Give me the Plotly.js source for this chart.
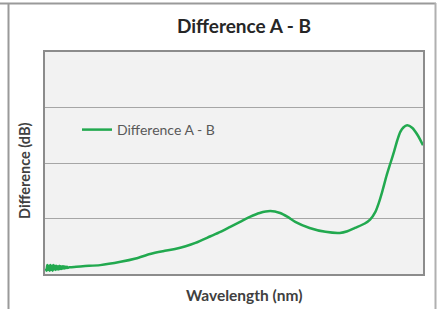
<!DOCTYPE html>
<html>
<head>
<meta charset="utf-8">
<script src="https://cdn.plot.ly/plotly-3.0.1.min.js"></script>
<style>
html,body{margin:0;padding:0;background:#fff;}
#chart{width:438px;height:309px;}
</style>
</head>
<body>
<div id="chart"></div>
<script>
// Wavelength (nm) – nominal axis, no tick labels shown in the reference
const wavelength = [1201,1202,1203,1204,1205,1206,1207,1208,1209,1210,1211,1212,1213,1214,1215,
  1216,1217,1218,1219,1220,1221,1222,1223,1224,1225,1226,1227,1228,1229,1230,1232,1234,
  1250,1273,1300,1320,1339,1356,1372,1386,1399,1419,1432,1445,1458,1471,1484,1498,1511,1521,1531,1550,1571,1590,
  1600,1610,1623,1630,1637,1642,1646,1652,1657,1662,1666,1670,1674,1679,1686,1693,1700];
// Difference A - B (dB)
const difference = [0.10,0.06,0.16,0.07,0.15,0.06,0.16,0.07,0.15,0.06,0.16,0.08,0.15,0.07,0.15,
  0.08,0.14,0.08,0.15,0.09,0.14,0.09,0.14,0.10,0.14,0.10,0.13,0.11,0.13,0.11,0.12,0.12,
  0.14,0.16,0.22,0.28,0.36,0.41,0.45,0.50,0.56,0.68,0.76,0.85,0.94,1.03,1.10,1.135,1.10,1.03,0.94,0.83,0.76,0.74,
  0.77,0.83,0.91,0.98,1.12,1.30,1.48,1.78,2.00,2.22,2.41,2.56,2.64,2.68,2.63,2.50,2.32];
const seriesName = "Difference A - B";
const chartTitle = "Difference A - B";
const xTitle = "Wavelength (nm)";
const yTitle = "Difference (dB)";

const FONT = "Lato, 'Open Sans', sans-serif";
const W = 438, H = 309, L = 45, T = 52, R = 15, B = 35;
const pw = W - L - R, ph = H - T - B;
const px = v => (v - L) / pw;          // page x -> paper x
const py = v => (H - B - v) / ph;      // page y -> paper y

const trace = {
  x: wavelength, y: difference, type: "scatter", mode: "lines",
  name: seriesName, line: {color: "#22a94f", width: 2.5, shape: "spline", smoothing: 0.8}
};

const layout = {
  width: W, height: H,
  margin: {l: L, r: R, t: T, b: B, pad: 0},
  paper_bgcolor: "#ffffff", plot_bgcolor: "#f2f2f2",
  font: {family: FONT, color: "#404040"},
  title: {text: "<b>" + chartTitle + "</b>", font: {size: 19, color: "#262626", family: FONT},
          xref: "paper", x: px(244), xanchor: "center", yref: "paper", y: py(28), yanchor: "middle"},
  showlegend: true,
  legend: {x: px(77), y: py(130), xanchor: "left", yanchor: "middle", bgcolor: "rgba(0,0,0,0)",
           font: {size: 14, color: "#595959", family: FONT}},
  xaxis: {range: [1200, 1700], showticklabels: false, ticks: "", showgrid: false, zeroline: false,
          showline: true, mirror: true, linecolor: "#8c8c8c", linewidth: 2},
  yaxis: {range: [0, 4], dtick: 1, showticklabels: false, ticks: "", showgrid: true,
          gridcolor: "#a6a6a6", gridwidth: 1, zeroline: false,
          showline: true, mirror: true, linecolor: "#8c8c8c", linewidth: 2},
  annotations: [
    {text: "<b>" + xTitle + "</b>", xref: "paper", yref: "paper", x: px(244), y: py(295),
     xanchor: "center", yanchor: "middle", showarrow: false, font: {size: 15.5, color: "#404040", family: FONT}},
    {text: "<b>" + yTitle + "</b>", xref: "paper", yref: "paper", x: px(24), y: py(171),
     xanchor: "center", yanchor: "middle", textangle: -90, showarrow: false,
     font: {size: 14.5, color: "#404040", family: FONT}}
  ],
  shapes: [
    {type: "line", xref: "paper", yref: "paper", x0: px(8.5), x1: px(8.5), y0: py(3), y1: py(309),
     line: {color: "#9a9a9a", width: 2}},
    {type: "line", xref: "paper", yref: "paper", x0: px(0), x1: px(436), y0: py(3.5), y1: py(3.5),
     line: {color: "#9a9a9a", width: 2}},
    {type: "line", xref: "paper", yref: "paper", x0: px(435.5), x1: px(435.5), y0: py(3), y1: py(309),
     line: {color: "#b0b0b0", width: 2}}
  ]
};

Plotly.newPlot("chart", [trace], layout, {displayModeBar: false, staticPlot: true});
</script>
</body>
</html>
